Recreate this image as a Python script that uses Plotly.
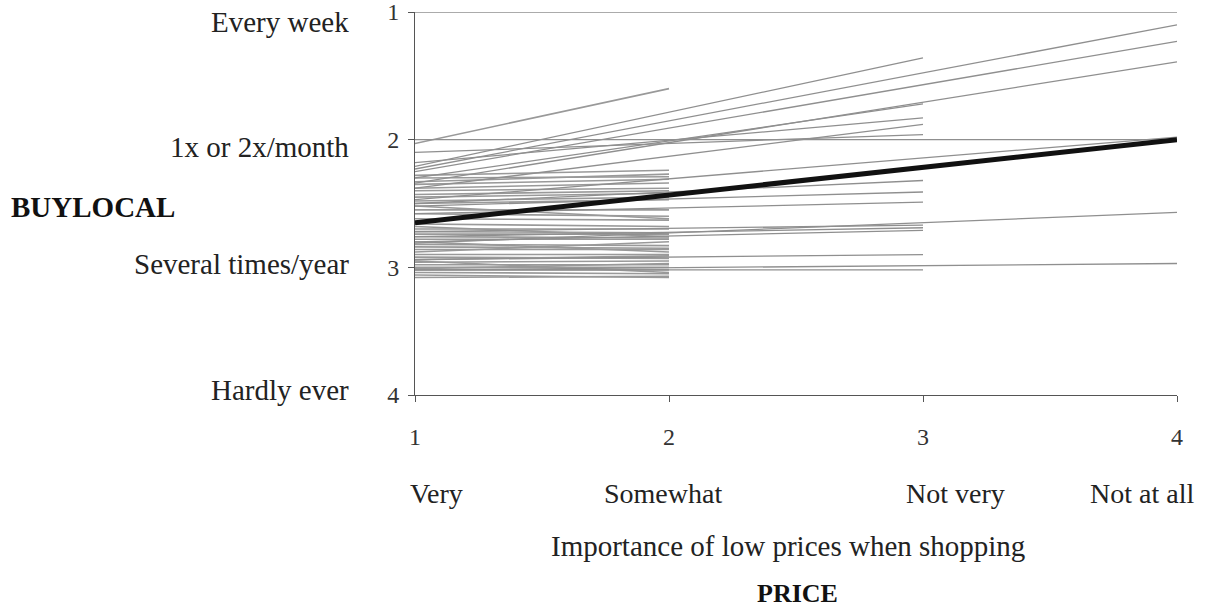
import plotly.graph_objects as go

# ---------------- data ----------------
price_ticks = [1, 2, 3, 4]
price_labels = ["Very", "Somewhat", "Not very", "Not at all"]
buylocal_ticks = [1, 2, 3, 4]
buylocal_labels = ["Every week", "1x or 2x/month", "Several times/year", "Hardly ever"]

# individual lines ending at PRICE = 2 (start value at PRICE=1, end value at PRICE=2)
to2_start = [2.03, 2.28, 2.30, 2.33, 2.35, 2.38, 2.40, 2.43, 2.45, 2.48, 2.50, 2.52, 2.55,
             2.58, 2.62, 2.66, 2.68, 2.70, 2.72, 2.74, 2.76, 2.78, 2.80, 2.82, 2.84, 2.86,
             2.88, 2.90, 2.92, 2.94, 2.95, 2.96, 2.98, 3.00, 3.01, 3.02, 3.04, 3.06, 3.08]
to2_end = [1.60, 2.24, 2.29, 2.27, 2.31, 2.34, 2.38, 2.40, 2.42, 2.45, 2.47, 2.62, 2.55,
           2.60, 2.63, 2.68, 2.76, 2.70, 2.73, 2.74, 2.77, 2.78, 2.88, 2.83, 2.85, 2.86,
           2.80, 2.90, 2.93, 2.91, 3.04, 2.95, 2.98, 3.00, 2.97, 3.02, 3.05, 3.08, 3.07]

# individual lines ending at PRICE = 3
to3_start = [2.21, 2.18, 2.10, 2.30, 2.38, 2.50, 2.52, 2.58, 2.72, 2.76, 2.80, 2.94, 3.02]
to3_end = [1.36, 1.83, 1.96, 1.72, 1.88, 2.32, 2.41, 2.49, 2.67, 2.69, 2.71, 2.90, 3.02]

# individual lines ending at PRICE = 4
to4_start = [1.00, 2.23, 2.25, 2.34, 2.00, 2.47, 2.81, 3.02]
to4_end = [1.00, 1.10, 1.23, 1.39, 2.00, 1.98, 2.57, 2.97]

# overall (average) line
mean_start = 2.65
mean_end = 2.00

# ---------------- figure ----------------
fig = go.Figure()
GRAY = "#8f8f8f"
FONT = "Liberation Serif"


def add_group(starts, ends, end_x, color=GRAY, width=1.3):
    xs, ys = [], []
    for s, e in zip(starts, ends):
        xs += [price_ticks[0], end_x, None]
        ys += [s, e, None]
    fig.add_trace(go.Scatter(x=xs, y=ys, mode="lines",
                             line=dict(color=color, width=width),
                             hoverinfo="skip", showlegend=False, cliponaxis=False))


add_group(to2_start, to2_end, price_ticks[1], color="#999999", width=1.6)
add_group(to3_start, to3_end, price_ticks[2])
add_group(to4_start, to4_end, price_ticks[3])

fig.add_trace(go.Scatter(x=[price_ticks[0], price_ticks[3]], y=[mean_start, mean_end],
                         mode="lines", line=dict(color="#111111", width=5),
                         hoverinfo="skip", showlegend=False))

L, R, T, B = 415, 46, 12, 215
W, H = 1223, 610
PW, PH = W - L - R, H - T - B


def px_x(p):
    return (p - L) / PW


def px_y(p):
    return 1 - (p - T) / PH


annotations = []
# y category labels
ylab_shift = [-10, -7, 3, 5]
for lab, yv, sh in zip(buylocal_labels, buylocal_ticks, ylab_shift):
    annotations.append(dict(text=lab, xref="paper", yref="y", x=px_x(351), y=yv,
                            xanchor="right", yanchor="middle", yshift=sh, showarrow=False,
                            font=dict(family=FONT, size=29, color="#222")))
annotations.append(dict(text="<b>BUYLOCAL</b>", xref="paper", yref="paper",
                        x=px_x(9), y=px_y(207), xanchor="left", yanchor="middle",
                        showarrow=False, font=dict(family=FONT, size=29, color="#111")))
# x category labels
xlab_px = [436, 663, 955, 1142]
for lab, xp in zip(price_labels, xlab_px):
    annotations.append(dict(text=lab, xref="paper", yref="paper", x=px_x(xp), y=px_y(493),
                            xanchor="center", yanchor="middle", showarrow=False,
                            font=dict(family=FONT, size=28, color="#222")))
annotations.append(dict(text="Importance of low prices when shopping", xref="paper", yref="paper",
                        x=px_x(788), y=px_y(546), xanchor="center", yanchor="middle",
                        showarrow=False, font=dict(family=FONT, size=29, color="#222")))
annotations.append(dict(text="<b>PRICE</b>", xref="paper", yref="paper",
                        x=px_x(797), y=px_y(593), xanchor="center", yanchor="middle",
                        showarrow=False, font=dict(family=FONT, size=26, color="#111")))

fig.update_layout(
    width=W, height=H,
    margin=dict(l=L, r=R, t=T, b=B, pad=0, autoexpand=False),
    paper_bgcolor="white", plot_bgcolor="white",
    annotations=annotations,
    xaxis=dict(range=[1, 4], tickvals=price_ticks, ticktext=[str(v) for v in price_ticks],
               showgrid=False, zeroline=False, showline=True, linecolor="#555", linewidth=1,
               ticks="outside", ticklen=6, tickcolor="#555", ticklabelstandoff=14,
               ticklabeloverflow="allow", automargin=False,
               tickfont=dict(family=FONT, size=24, color="#333")),
    yaxis=dict(range=[4, 1], tickvals=buylocal_ticks, ticktext=[str(v) for v in buylocal_ticks],
               showgrid=False, zeroline=False, showline=True, linecolor="#555", linewidth=1,
               ticks="outside", ticklen=6, tickcolor="#555", ticklabelstandoff=4,
               ticklabeloverflow="allow", automargin=False,
               tickfont=dict(family=FONT, size=24, color="#333")),
)

fig.write_html("out.html", config={"displayModeBar": False},
               post_script="document.body.style.margin='0';")
